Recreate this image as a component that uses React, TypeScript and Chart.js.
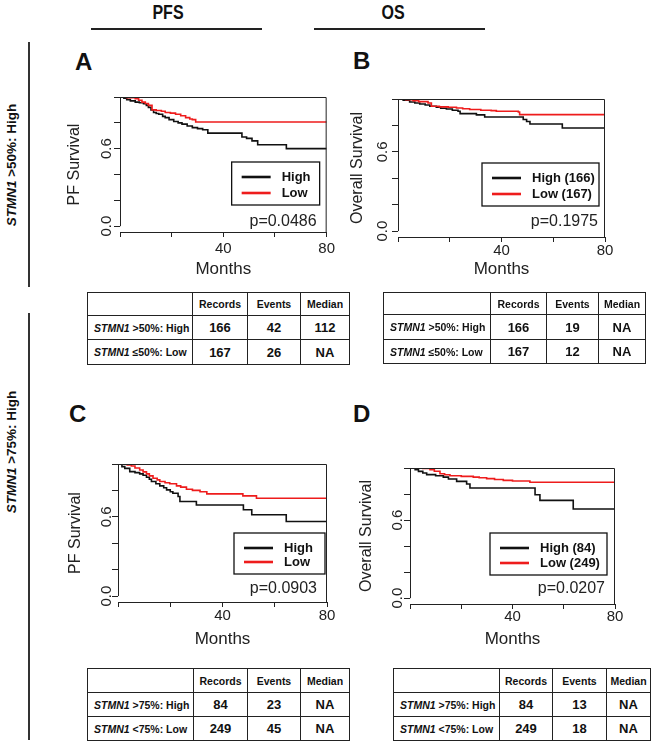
import React, { useEffect, useRef } from 'react';
import { Chart, registerables } from 'chart.js';

Chart.register(...registerables);

const FONT = 'Arial, "Liberation Sans", Helvetica, sans-serif';
Chart.defaults.font.family = FONT;
Chart.defaults.color = '#111';

// ---------- axis ticks ----------
const monthTicks = [0, 20, 40, 60, 80];
const monthTickLabels = ['', '', '40', '', '80'];
const survTicks = [0, 0.2, 0.4, 0.6, 0.8, 1.0];
const survTickLabels = ['0.0', '', '', '0.6', '', ''];

// ---------- Panel A: PFS, STMN1 >50% ----------
const pfs50HighMonths = [0, 1.5, 2.6, 4, 5.9, 7.5, 9.1, 10.2, 11, 12, 13, 14, 15, 16.5, 17.5, 19, 20.8, 22.5, 24, 26, 28, 30, 32, 34, 47.2, 49, 51.1, 53.3, 64.4, 80];
const pfs50HighSurv = [1, 0.99, 0.98, 0.97, 0.96, 0.955, 0.948, 0.935, 0.92, 0.9, 0.88, 0.872, 0.866, 0.85, 0.84, 0.825, 0.81, 0.8, 0.79, 0.775, 0.763, 0.755, 0.747, 0.72, 0.69, 0.68, 0.66, 0.63, 0.6, 0.6];
const pfs50LowMonths = [0, 2.6, 5.9, 7.2, 8.5, 9.8, 11, 12.4, 14, 16, 17.5, 19.5, 21.5, 23.5, 25.4, 27, 28, 29.3, 80];
const pfs50LowSurv = [1, 0.995, 0.987, 0.975, 0.96, 0.95, 0.935, 0.9, 0.895, 0.89, 0.88, 0.875, 0.866, 0.855, 0.84, 0.83, 0.825, 0.807, 0.807];

// ---------- Panel B: OS, STMN1 >50% ----------
const os50HighMonths = [0, 2, 4.5, 6.5, 8.4, 10.5, 12.3, 14.8, 16.5, 18.7, 21, 23.2, 24, 30.3, 33.5, 48.4, 49.7, 51, 63.5, 80];
const os50HighSurv = [1, 0.99, 0.977, 0.97, 0.962, 0.955, 0.945, 0.937, 0.93, 0.924, 0.915, 0.907, 0.889, 0.88, 0.864, 0.845, 0.83, 0.811, 0.78, 0.78];
const os50LowMonths = [0, 3, 5.8, 8, 11.6, 12.9, 16, 19.4, 22.6, 25, 27.7, 32, 36, 38, 46.5, 47, 80];
const os50LowSurv = [1, 0.995, 0.987, 0.98, 0.97, 0.945, 0.94, 0.937, 0.932, 0.926, 0.92, 0.915, 0.912, 0.907, 0.902, 0.882, 0.882];

// ---------- Panel C: PFS, STMN1 >75% ----------
const pfs75HighMonths = [0, 1.5, 2.6, 4.5, 6.5, 8.3, 9.6, 10.9, 12, 12.8, 14.5, 16, 17.5, 18.6, 20, 21, 23, 23.7, 30, 48, 51.2, 64.4, 80];
const pfs75HighSurv = [1, 0.98, 0.967, 0.942, 0.935, 0.925, 0.915, 0.9, 0.885, 0.867, 0.85, 0.834, 0.82, 0.804, 0.79, 0.779, 0.754, 0.716, 0.69, 0.653, 0.616, 0.565, 0.565];
const pfs75LowMonths = [0, 3.5, 5.1, 6.5, 8.3, 9.6, 10.9, 12, 13.4, 15, 16, 18, 19.8, 22.4, 24, 26.2, 28.5, 31.4, 34, 47.8, 53, 80];
const pfs75LowSurv = [1, 0.993, 0.985, 0.97, 0.955, 0.94, 0.925, 0.91, 0.892, 0.88, 0.867, 0.858, 0.85, 0.834, 0.825, 0.809, 0.8, 0.79, 0.774, 0.759, 0.741, 0.741];

// ---------- Panel D: OS, STMN1 >75% ----------
const os75HighMonths = [0, 2, 3.3, 5, 6.5, 10, 13, 15, 18.2, 22.1, 23.4, 48.8, 50.7, 63.7, 80];
const os75HighSurv = [1, 0.987, 0.974, 0.962, 0.949, 0.94, 0.93, 0.915, 0.897, 0.877, 0.846, 0.795, 0.751, 0.685, 0.685];
const os75LowMonths = [0, 5, 7.8, 9.5, 11.7, 13.5, 15.6, 20, 24.7, 27, 29.9, 33, 36.4, 40, 46.8, 80];
const os75LowSurv = [1, 0.997, 0.987, 0.975, 0.956, 0.948, 0.941, 0.936, 0.93, 0.925, 0.918, 0.912, 0.905, 0.9, 0.89, 0.89];

// ---------- p-values & legends ----------
const pValues = ['p=0.0486', 'p=0.1975', 'p=0.0903', 'p=0.0207'];
const legendA = ['High', 'Low'];
const legendB = ['High (166)', 'Low (167)'];
const legendC = ['High', 'Low'];
const legendD = ['High (84)', 'Low (249)'];

// ---------- tables ----------
const tableHeaders = ['Records', 'Events', 'Median'];
const rowLabels50 = [' >50%: High', ' ≤50%: Low'];
const rowLabels75 = [' >75%: High', ' <75%: Low'];
const geneName = 'STMN1';
const pfs50Records = ['166', '167'];
const pfs50Events = ['42', '26'];
const pfs50Median = ['112', 'NA'];
const os50Records = ['166', '167'];
const os50Events = ['19', '12'];
const os50Median = ['NA', 'NA'];
const pfs75Records = ['84', '249'];
const pfs75Events = ['23', '45'];
const pfs75Median = ['NA', 'NA'];
const os75Records = ['84', '249'];
const os75Events = ['13', '18'];
const os75Median = ['NA', 'NA'];

const BLACK = '#111111';
const RED = '#ee1c1c';

const kmDecor = {
  id: 'kmDecor',
  afterDraw(chart: any, _args: any, opts: any) {
    const { ctx, chartArea: a } = chart;
    const y = chart.scales.y;
    ctx.save();
    ctx.strokeStyle = '#222';
    ctx.lineWidth = 1;
    const y0 = y.getPixelForValue(survTicks[0]);
    const y1 = y.getPixelForValue(survTicks[survTicks.length - 1]);
    ctx.beginPath();
    ctx.moveTo(a.left + 0.5, y0);
    ctx.lineTo(a.left + 0.5, y1);
    ctx.moveTo(a.left, a.top + 0.5);
    ctx.lineTo(a.right - 0.5, a.top + 0.5);
    ctx.lineTo(a.right - 0.5, a.bottom);
    ctx.stroke();

    // rotated y tick labels
    ctx.fillStyle = '#222';
    ctx.font = `15px ${FONT}`;
    ctx.textAlign = 'center';
    ctx.textBaseline = 'middle';
    survTicks.forEach((v, i) => {
      const lab = survTickLabels[i];
      if (!lab) return;
      const py = y.getPixelForValue(v);
      ctx.save();
      ctx.translate(a.left - opts.yTickOff, py);
      ctx.rotate(-Math.PI / 2);
      ctx.fillText(lab, 0, 0);
      ctx.restore();
    });

    // legend box
    const bw = opts.box.w, bh = opts.box.h;
    const bx = a.right - opts.box.dr - bw;
    const by = a.top + opts.box.dt;
    ctx.fillStyle = '#fff';
    ctx.fillRect(bx, by, bw, bh);
    ctx.strokeStyle = '#111';
    ctx.lineWidth = 1.3;
    ctx.strokeRect(bx, by, bw, bh);
    const rows = [by + 15, by + bh - 12];
    const colors = [BLACK, RED];
    ctx.font = `bold 13px ${FONT}`;
    ctx.textAlign = 'left';
    ctx.textBaseline = 'middle';
    opts.labels.forEach((lab: string, i: number) => {
      ctx.strokeStyle = colors[i];
      ctx.lineWidth = 2.6;
      ctx.beginPath();
      ctx.moveTo(bx + 10, rows[i]);
      ctx.lineTo(bx + 39, rows[i]);
      ctx.stroke();
      ctx.fillStyle = '#111';
      ctx.fillText(lab, bx + 50, rows[i] + 0.5);
    });

    // p-value
    ctx.font = `16px ${FONT}`;
    ctx.textAlign = 'right';
    ctx.fillStyle = '#222';
    ctx.fillText(opts.p, a.right - opts.pdr, a.top + opts.pdt);
    ctx.restore();
  },
};

type PanelCfg = {
  L: number; R: number; T: number; B: number;
  xH: number; tickPad: number; yTitlePad: number; yTickOff: number;
  yTitle: string;
  highT: number[]; highS: number[]; lowT: number[]; lowS: number[];
  labels: string[]; p: string;
  box: { dr: number; dt: number; w: number; h: number };
  pdr: number; pdt: number;
};

const PAD_L = 60, PAD_T = 12, PAD_R = 12;

function KMPanel({ cfg }: { cfg: PanelCfg }) {
  const ref = useRef<HTMLCanvasElement>(null);
  const width = cfg.R - cfg.L + PAD_L + PAD_R;
  const height = cfg.B - cfg.T + PAD_T + cfg.xH;
  useEffect(() => {
    if (!ref.current) return;
    const chart = new Chart(ref.current, {
      type: 'line',
      data: {
        datasets: [
          {
            label: cfg.labels[0],
            data: cfg.highT.map((t, i) => ({ x: t, y: cfg.highS[i] })),
            borderColor: BLACK,
            borderWidth: 1.6,
            stepped: 'before',
            pointRadius: 0,
            fill: false,
            order: 1,
          },
          {
            label: cfg.labels[1],
            data: cfg.lowT.map((t, i) => ({ x: t, y: cfg.lowS[i] })),
            borderColor: RED,
            borderWidth: 1.6,
            stepped: 'before',
            pointRadius: 0,
            fill: false,
            order: 0,
          },
        ],
      },
      options: {
        responsive: false,
        animation: false,
        devicePixelRatio: 1,
        layout: { padding: { left: 0, right: PAD_R, top: PAD_T, bottom: 0 } },
        plugins: {
          legend: { display: false },
          tooltip: { enabled: false },
          kmDecor: {
            labels: cfg.labels, p: cfg.p, box: cfg.box, pdr: cfg.pdr, pdt: cfg.pdt,
            yTickOff: cfg.yTickOff,
          },
        } as any,
        scales: {
          x: {
            type: 'linear',
            min: monthTicks[0],
            max: monthTicks[monthTicks.length - 1],
            afterBuildTicks: (s: any) => { s.ticks = monthTicks.map((v) => ({ value: v })); },
            afterFit: (s: any) => { s.height = cfg.xH; },
            ticks: {
              autoSkip: false,
              maxRotation: 0,
              minRotation: 0,
              padding: cfg.tickPad,
              color: '#222',
              font: { size: 15, lineHeight: 1 },
              callback: (_v: any, i: number) => monthTickLabels[i],
            },
            grid: { display: true, drawOnChartArea: false, drawTicks: true, tickLength: 5, color: '#222', lineWidth: 1 },
            border: { display: true, color: '#222', width: 1 },
            title: { display: true, text: 'Months', color: '#222', font: { size: 17 }, padding: { top: 0, bottom: 3 } },
          },
          y: {
            type: 'linear',
            min: -0.045,
            max: 1.0,
            afterBuildTicks: (s: any) => { s.ticks = survTicks.map((v) => ({ value: v })); },
            afterFit: (s: any) => { s.width = PAD_L; },
            ticks: { display: false },
            grid: { display: true, drawOnChartArea: false, drawTicks: true, tickLength: 6, color: '#222', lineWidth: 1 },
            border: { display: false },
            title: { display: true, text: cfg.yTitle, color: '#222', font: { size: 16 }, padding: { top: cfg.yTitlePad, bottom: 0 } },
          },
        },
      } as any,
      plugins: [kmDecor as any],
    });
    return () => chart.destroy();
  }, []);
  return (
    <canvas
      ref={ref}
      width={width}
      height={height}
      style={{ position: 'absolute', left: cfg.L - PAD_L, top: cfg.T - PAD_T, width, height }}
    />
  );
}

const panels: PanelCfg[] = [
  {
    L: 120, R: 327, T: 97, B: 232, xH: 51, tickPad: 4, yTitlePad: 5, yTickOff: 13,
    yTitle: 'PF Survival', highT: pfs50HighMonths, highS: pfs50HighSurv, lowT: pfs50LowMonths, lowS: pfs50LowSurv,
    labels: legendA, p: pValues[0], box: { dr: 7, dt: 65, w: 88, h: 43 }, pdr: 10, pdt: 125,
  },
  {
    L: 398, R: 605, T: 99, B: 237, xH: 46, tickPad: 1, yTitlePad: 10, yTickOff: 15,
    yTitle: 'Overall Survival', highT: os50HighMonths, highS: os50HighSurv, lowT: os50LowMonths, lowS: os50LowSurv,
    labels: legendB, p: pValues[1], box: { dr: 6, dt: 64, w: 117, h: 43 }, pdr: 7, pdt: 123,
  },
  {
    L: 118, R: 327, T: 464, B: 602, xH: 51, tickPad: 1, yTitlePad: 8, yTickOff: 11,
    yTitle: 'PF Survival', highT: pfs75HighMonths, highS: pfs75HighSurv, lowT: pfs75LowMonths, lowS: pfs75LowSurv,
    labels: legendC, p: pValues[2], box: { dr: 2, dt: 69, w: 91, h: 41 }, pdr: 10, pdt: 125,
  },
  {
    L: 410, R: 615, T: 468, B: 604, xH: 49, tickPad: 0, yTitlePad: 7, yTickOff: 12,
    yTitle: 'Overall Survival', highT: os75HighMonths, highS: os75HighSurv, lowT: os75LowMonths, lowS: os75LowSurv,
    labels: legendD, p: pValues[3], box: { dr: 8, dt: 65, w: 117, h: 42 }, pdr: 10, pdt: 121,
  },
];

type TableCfg = {
  left: number; top: number; cols: number[]; rows: number[];
  labels: string[]; records: string[]; events: string[]; median: string[];
};

const tables: TableCfg[] = [
  { left: 87, top: 292, cols: [105, 55, 53, 49], rows: [23, 24, 25], labels: rowLabels50, records: pfs50Records, events: pfs50Events, median: pfs50Median },
  { left: 383, top: 292, cols: [107, 56, 52, 47], rows: [22, 25, 24], labels: rowLabels50, records: os50Records, events: os50Events, median: os50Median },
  { left: 87, top: 668, cols: [106, 54, 53, 49], rows: [24, 24, 24], labels: rowLabels75, records: pfs75Records, events: pfs75Events, median: pfs75Median },
  { left: 393, top: 668, cols: [106, 53, 54, 44], rows: [24, 24, 24], labels: rowLabels75, records: os75Records, events: os75Events, median: os75Median },
];

function SurvTable({ t }: { t: TableCfg }) {
  const cellBase: React.CSSProperties = {
    boxSizing: 'border-box',
    borderRight: '1.3px solid #222',
    borderBottom: '1.3px solid #222',
    display: 'flex',
    alignItems: 'center',
    justifyContent: 'center',
    color: '#111',
    fontFamily: FONT,
    whiteSpace: 'nowrap',
    overflow: 'hidden',
  };
  const header = (
    <>
      <div style={{ ...cellBase }} />
      {tableHeaders.map((h) => (
        <div key={h} style={{ ...cellBase, fontSize: 10.5, fontWeight: 'bold' }}>{h}</div>
      ))}
    </>
  );
  const body = t.labels.map((lab, i) => (
    <React.Fragment key={i}>
      <div style={{ ...cellBase, justifyContent: 'flex-start', paddingLeft: 6, fontSize: 10.5, fontWeight: 'bold' }}>
        <i>{geneName}</i>
        <span style={{ whiteSpace: 'pre' }}>{lab}</span>
      </div>
      <div style={{ ...cellBase, fontSize: 13, fontWeight: 'bold' }}>{t.records[i]}</div>
      <div style={{ ...cellBase, fontSize: 13, fontWeight: 'bold' }}>{t.events[i]}</div>
      <div style={{ ...cellBase, fontSize: 13, fontWeight: 'bold' }}>{t.median[i]}</div>
    </React.Fragment>
  ));
  return (
    <div
      style={{
        position: 'absolute',
        left: t.left,
        top: t.top,
        display: 'grid',
        gridTemplateColumns: t.cols.map((c) => c + 'px').join(' '),
        gridTemplateRows: t.rows.map((r) => r + 'px').join(' '),
        borderLeft: '1.3px solid #222',
        borderTop: '1.3px solid #222',
        background: '#fff',
      }}
    >
      {header}
      {body}
    </div>
  );
}

const letters = [
  { t: 'A', x: 75, y: 50 },
  { t: 'B', x: 353, y: 49 },
  { t: 'C', x: 69, y: 402 },
  { t: 'D', x: 353, y: 402 },
];

const colHeads = [
  { t: 'PFS', cx: 168, x1: 91, x2: 262 },
  { t: 'OS', cx: 393, x1: 314, x2: 485 },
];

const rowHeads = [
  { pct: ' >50%: High', cy: 165, y1: 42, y2: 287 },
  { pct: ' >75%: High', cy: 452, y1: 313, y2: 740 },
];

export default function App() {
  return (
    <div style={{ position: 'absolute', left: 0, top: 0, width: 658, height: 750, background: '#fff', overflow: 'hidden', fontFamily: FONT }}>
      {colHeads.map((h) => (
        <React.Fragment key={h.t}>
          <div
            style={{
              position: 'absolute', left: h.cx, top: 12, transform: 'translate(-50%, -50%) scaleX(0.8)',
              fontSize: 20, fontWeight: 'bold', color: '#111', lineHeight: '20px', whiteSpace: 'nowrap',
            }}
          >
            {h.t}
          </div>
          <div style={{ position: 'absolute', left: h.x1, top: 28, width: h.x2 - h.x1, height: 2, background: '#222' }} />
        </React.Fragment>
      ))}
      {rowHeads.map((r, i) => (
        <React.Fragment key={i}>
          <div
            style={{
              position: 'absolute', left: 12, top: r.cy, transform: 'translate(-50%, -50%) rotate(-90deg)',
              fontSize: 13.5, fontWeight: 'bold', color: '#111', whiteSpace: 'pre', lineHeight: '16px',
            }}
          >
            <i>{geneName}</i>{r.pct}
          </div>
          <div style={{ position: 'absolute', left: 28, top: r.y1, width: 2, height: r.y2 - r.y1, background: '#333' }} />
        </React.Fragment>
      ))}
      {letters.map((l) => (
        <div
          key={l.t}
          style={{ position: 'absolute', left: l.x, top: l.y, fontSize: 24, lineHeight: '24px', fontWeight: 'bold', color: '#111' }}
        >
          {l.t}
        </div>
      ))}
      {panels.map((p, i) => (
        <KMPanel key={i} cfg={p} />
      ))}
      {tables.map((t, i) => (
        <SurvTable key={i} t={t} />
      ))}
    </div>
  );
}
